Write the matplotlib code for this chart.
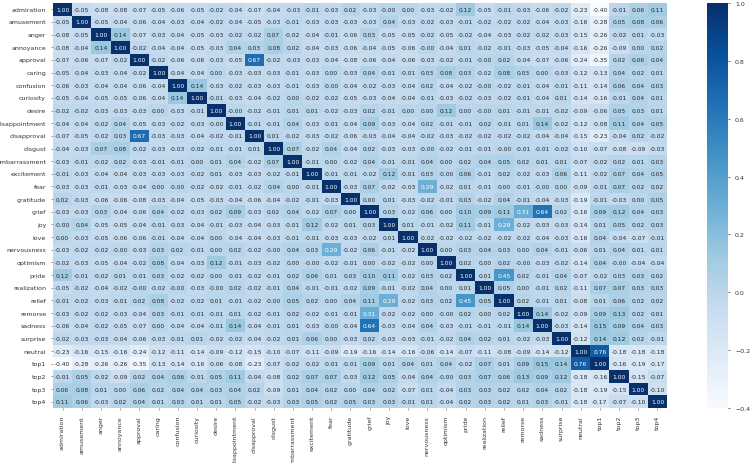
import numpy as np
import pandas as pd
import matplotlib
matplotlib.use("Agg")
import matplotlib.pyplot as plt
import seaborn as sns

etiquetas = ["admiration", "amusement", "anger", "annoyance", "approval", "caring",
             "confusion", "curiosity", "desire", "disappointment", "disapproval",
             "disgust", "embarrassment", "excitement", "fear", "gratitude", "grief",
             "joy", "love", "nervousness", "optimism", "pride", "realization",
             "relief", "remorse", "sadness", "surprise", "neutral",
             "top1", "top2", "top3", "top4"]

# matriz de correlacion, fila por fila
corr_filas = [
    [1.00, -0.05, -0.08, -0.08, -0.07, -0.05, -0.06, -0.05, -0.02, -0.04, -0.07, -0.04, -0.03, -0.01, -0.03, 0.02, -0.03, -0.00, 0.00, -0.03, -0.02, 0.12, -0.05, -0.01, -0.03, -0.06, -0.02, -0.23, -0.40, -0.01, 0.06, 0.11],
    [-0.05, 1.00, -0.05, -0.04, -0.06, -0.04, -0.03, -0.04, -0.02, -0.04, -0.05, -0.03, -0.01, -0.03, -0.03, -0.03, -0.03, 0.04, -0.03, -0.02, -0.03, -0.01, -0.02, -0.02, -0.02, -0.04, -0.03, -0.16, -0.28, 0.05, 0.08, 0.06],
    [-0.08, -0.05, 1.00, 0.14, -0.07, -0.03, -0.04, -0.05, -0.03, -0.02, -0.02, 0.07, -0.02, -0.04, -0.01, -0.06, 0.03, -0.05, -0.05, -0.02, -0.05, -0.02, -0.04, -0.03, -0.02, -0.02, -0.03, -0.15, -0.26, -0.02, 0.01, -0.03],
    [-0.08, -0.04, 0.14, 1.00, -0.02, -0.04, -0.04, -0.05, -0.03, 0.04, 0.03, 0.08, 0.02, -0.04, -0.03, -0.06, -0.04, -0.05, -0.06, -0.00, -0.04, 0.01, -0.02, -0.01, -0.03, -0.05, -0.04, -0.16, -0.26, -0.09, 0.00, 0.02],
    [-0.07, -0.06, -0.07, -0.02, 1.00, -0.02, -0.06, -0.06, -0.03, -0.05, 0.67, -0.02, -0.03, -0.03, -0.04, -0.08, -0.06, -0.04, -0.06, -0.03, -0.02, -0.01, -0.00, 0.02, -0.04, -0.07, -0.06, -0.24, -0.35, 0.02, 0.06, 0.04],
    [-0.05, -0.04, -0.03, -0.04, -0.02, 1.00, -0.04, -0.04, 0.00, -0.03, -0.03, -0.03, -0.01, -0.03, 0.00, -0.03, 0.04, -0.01, -0.01, 0.03, 0.08, 0.03, -0.02, 0.08, 0.03, 0.00, -0.03, -0.12, -0.13, 0.04, 0.02, 0.01],
    [-0.06, -0.03, -0.04, -0.04, -0.06, -0.04, 1.00, 0.14, -0.03, -0.02, -0.03, -0.03, -0.01, -0.03, -0.00, -0.04, -0.02, -0.03, -0.04, 0.02, -0.04, -0.02, -0.00, -0.02, -0.01, -0.04, -0.01, -0.11, -0.14, 0.06, 0.04, 0.03],
    [-0.05, -0.04, -0.05, -0.05, -0.06, -0.04, 0.14, 1.00, -0.01, -0.03, -0.04, -0.02, 0.00, -0.02, -0.02, -0.05, -0.03, -0.04, -0.04, -0.01, -0.03, -0.02, -0.03, -0.02, -0.01, -0.04, 0.01, -0.14, -0.16, -0.01, 0.04, 0.01],
    [-0.02, -0.02, -0.03, -0.03, -0.03, 0.00, -0.03, -0.01, 1.00, -0.00, -0.02, -0.01, 0.01, 0.01, -0.02, -0.03, 0.02, -0.01, 0.00, 0.00, 0.12, 0.00, -0.00, 0.01, -0.01, -0.01, -0.02, -0.09, -0.06, 0.05, 0.03, 0.01],
    [-0.04, -0.04, -0.02, 0.04, -0.05, -0.03, -0.02, -0.03, -0.00, 1.00, -0.01, -0.01, 0.04, -0.03, -0.01, -0.04, 0.09, -0.03, -0.04, 0.02, -0.01, -0.01, 0.02, -0.01, 0.01, 0.14, -0.02, -0.12, -0.08, 0.11, 0.04, 0.05],
    [-0.07, -0.05, -0.02, 0.03, 0.67, -0.03, -0.03, -0.04, -0.02, -0.01, 1.00, 0.01, -0.02, -0.03, -0.02, -0.06, -0.03, -0.04, -0.04, -0.02, -0.03, -0.02, -0.02, -0.02, -0.02, -0.04, -0.04, -0.15, -0.23, -0.04, 0.02, -0.02],
    [-0.04, -0.03, 0.07, 0.08, -0.02, -0.03, -0.03, -0.02, -0.01, -0.01, 0.01, 1.00, 0.07, -0.02, 0.04, -0.04, 0.02, -0.03, -0.03, -0.00, -0.02, -0.01, -0.01, -0.00, -0.01, -0.01, -0.02, -0.10, -0.07, -0.08, -0.09, -0.03],
    [-0.03, -0.01, -0.02, 0.02, -0.03, -0.01, -0.01, 0.00, 0.01, 0.04, -0.02, 0.07, 1.00, -0.01, 0.00, -0.02, 0.04, -0.01, -0.01, 0.04, 0.00, 0.02, 0.04, 0.05, 0.02, 0.01, 0.01, -0.07, -0.02, 0.02, 0.01, 0.03],
    [-0.01, -0.03, -0.04, -0.04, -0.03, -0.03, -0.03, -0.02, 0.01, -0.03, -0.03, -0.02, -0.01, 1.00, -0.01, -0.01, -0.02, 0.12, -0.01, 0.03, -0.00, 0.06, -0.01, 0.02, -0.02, -0.03, 0.06, -0.11, -0.02, 0.07, 0.04, 0.05],
    [-0.03, -0.03, -0.01, -0.03, -0.04, 0.00, -0.00, -0.02, -0.02, -0.01, -0.02, 0.04, 0.00, -0.01, 1.00, -0.03, 0.07, -0.02, -0.03, 0.29, -0.02, 0.01, -0.01, 0.00, -0.01, -0.00, 0.00, -0.09, -0.01, 0.07, 0.02, 0.02],
    [0.02, -0.03, -0.06, -0.06, -0.08, -0.03, -0.04, -0.05, -0.03, -0.04, -0.06, -0.04, -0.02, -0.01, -0.03, 1.00, 0.00, 0.01, -0.03, -0.02, -0.01, 0.03, -0.02, 0.04, -0.01, -0.04, -0.03, -0.19, -0.01, -0.03, 0.00, 0.05],
    [-0.03, -0.03, 0.03, -0.04, -0.06, 0.04, -0.02, -0.03, 0.02, 0.09, -0.03, 0.02, 0.04, -0.02, 0.07, 0.00, 1.00, 0.03, -0.02, 0.06, 0.00, 0.10, 0.09, 0.11, 0.31, 0.64, 0.02, -0.16, 0.09, 0.12, 0.04, 0.03],
    [-0.00, 0.04, -0.05, -0.05, -0.04, -0.01, -0.03, -0.04, -0.01, -0.03, -0.04, -0.03, -0.01, 0.12, -0.02, 0.01, 0.03, 1.00, 0.01, -0.01, -0.02, 0.11, -0.01, 0.29, -0.02, -0.03, -0.03, -0.14, 0.01, 0.05, 0.02, 0.03],
    [0.00, -0.03, -0.05, -0.06, -0.06, -0.01, -0.04, -0.04, 0.00, -0.04, -0.04, -0.03, -0.01, -0.01, -0.03, -0.03, -0.02, 0.01, 1.00, -0.02, -0.02, -0.02, -0.02, -0.02, -0.02, -0.04, -0.03, -0.16, 0.04, -0.04, -0.07, -0.01],
    [-0.03, -0.02, -0.02, -0.00, -0.03, 0.03, 0.02, -0.01, 0.00, 0.02, -0.02, -0.00, 0.04, 0.03, 0.29, -0.02, 0.06, -0.01, -0.02, 1.00, 0.00, 0.03, 0.04, 0.03, 0.00, 0.04, -0.01, -0.06, 0.01, 0.04, 0.01, 0.01],
    [-0.02, -0.03, -0.05, -0.04, -0.02, 0.08, -0.04, -0.03, 0.12, -0.01, -0.03, -0.02, 0.00, -0.00, -0.02, -0.01, 0.00, -0.02, -0.02, 0.00, 1.00, 0.02, 0.00, 0.02, -0.00, -0.03, -0.02, -0.14, 0.04, -0.00, -0.04, -0.04],
    [0.12, -0.01, -0.02, 0.01, -0.01, 0.03, -0.02, -0.02, 0.00, -0.01, -0.02, -0.01, 0.02, 0.06, 0.01, 0.03, 0.10, 0.11, -0.02, 0.03, 0.02, 1.00, 0.01, 0.45, 0.02, -0.01, 0.04, -0.07, -0.02, 0.03, 0.03, 0.02],
    [-0.05, -0.02, -0.04, -0.02, -0.00, -0.02, -0.00, -0.03, -0.00, 0.02, -0.02, -0.01, 0.04, -0.01, -0.01, -0.02, 0.09, -0.01, -0.02, 0.04, 0.00, 0.01, 1.00, 0.05, 0.00, -0.01, 0.02, -0.11, 0.07, 0.07, 0.03, 0.03],
    [-0.01, -0.02, -0.03, -0.01, 0.02, 0.08, -0.02, -0.02, 0.01, -0.01, -0.02, -0.00, 0.05, 0.02, 0.00, 0.04, 0.11, 0.29, -0.02, 0.03, 0.02, 0.45, 0.05, 1.00, 0.02, -0.01, 0.01, -0.08, 0.01, 0.06, 0.02, 0.02],
    [-0.03, -0.02, -0.02, -0.03, -0.04, 0.03, -0.01, -0.01, -0.01, 0.01, -0.02, -0.01, 0.02, -0.02, -0.01, -0.01, 0.31, -0.02, -0.02, 0.00, -0.00, 0.02, 0.00, 0.02, 1.00, 0.14, -0.02, -0.09, 0.09, 0.13, 0.02, 0.01],
    [-0.06, -0.04, -0.02, -0.05, -0.07, 0.00, -0.04, -0.04, -0.01, 0.14, -0.04, -0.01, 0.01, -0.03, -0.00, -0.04, 0.64, -0.03, -0.04, 0.04, -0.03, -0.01, -0.01, -0.01, 0.14, 1.00, -0.03, -0.14, 0.15, 0.09, 0.04, 0.03],
    [-0.02, -0.03, -0.03, -0.04, -0.06, -0.03, -0.01, 0.01, -0.02, -0.02, -0.04, -0.02, 0.01, 0.06, 0.00, -0.03, 0.02, -0.03, -0.03, -0.01, -0.02, 0.04, 0.02, 0.01, -0.02, -0.03, 1.00, -0.12, 0.14, 0.12, 0.02, -0.01],
    [-0.23, -0.16, -0.15, -0.16, -0.24, -0.12, -0.11, -0.14, -0.09, -0.12, -0.15, -0.10, -0.07, -0.11, -0.09, -0.19, -0.16, -0.14, -0.16, -0.06, -0.14, -0.07, -0.11, -0.08, -0.09, -0.14, -0.12, 1.00, 0.76, -0.18, -0.18, -0.18],
    [-0.40, -0.28, -0.26, -0.26, -0.35, -0.13, -0.14, -0.16, -0.06, -0.08, -0.23, -0.07, -0.02, -0.02, -0.01, -0.01, 0.09, 0.01, 0.04, 0.01, 0.04, -0.02, 0.07, 0.01, 0.09, 0.15, 0.14, 0.76, 1.00, -0.16, -0.19, -0.17],
    [-0.01, 0.05, -0.02, -0.09, 0.02, 0.04, 0.06, -0.01, 0.05, 0.11, -0.04, -0.08, 0.02, 0.07, 0.07, -0.03, 0.12, 0.05, -0.04, 0.04, -0.00, 0.03, 0.07, 0.06, 0.13, 0.09, 0.12, -0.18, -0.16, 1.00, -0.15, -0.07],
    [0.06, 0.08, 0.01, 0.00, 0.06, 0.02, 0.04, 0.04, 0.03, 0.04, 0.02, -0.09, 0.01, 0.04, 0.02, 0.00, 0.04, 0.02, -0.07, 0.01, -0.04, 0.03, 0.03, 0.02, 0.02, 0.04, 0.02, -0.18, -0.19, -0.15, 1.00, -0.10],
    [0.11, 0.06, -0.03, 0.02, 0.04, 0.01, 0.03, 0.01, 0.01, 0.05, -0.02, -0.03, 0.03, 0.05, 0.02, 0.05, 0.03, 0.03, -0.01, 0.01, -0.04, 0.02, 0.03, 0.02, 0.01, 0.03, -0.01, -0.18, -0.17, -0.07, -0.10, 1.00],
]

corr = pd.DataFrame(np.array(corr_filas), index=etiquetas, columns=etiquetas)

fig = plt.figure(figsize=(7.5, 4.64), dpi=100)
ax = fig.add_axes([0.0707, 0.1185, 0.8187, 0.8730])
cax = fig.add_axes([0.9427, 0.1185, 0.028, 0.8730])

sns.heatmap(corr, ax=ax, cbar_ax=cax, cmap="Blues", annot=True, fmt=".2f",
            annot_kws={"size": 4.3})

ax.set_xticks(np.arange(len(etiquetas)) + 0.5)
ax.set_xticklabels(etiquetas, rotation=90, fontsize=4.5, color="#333333")
ax.set_yticks(np.arange(len(etiquetas)) + 0.5)
ax.set_yticklabels(etiquetas, rotation=0, fontsize=4.5, color="#333333")
ax.tick_params(length=1.5, width=0.4, color="#555555")
cax.tick_params(labelsize=4.5, length=1.5, width=0.4, labelcolor="#333333")

plt.savefig("out.png", dpi=100)
